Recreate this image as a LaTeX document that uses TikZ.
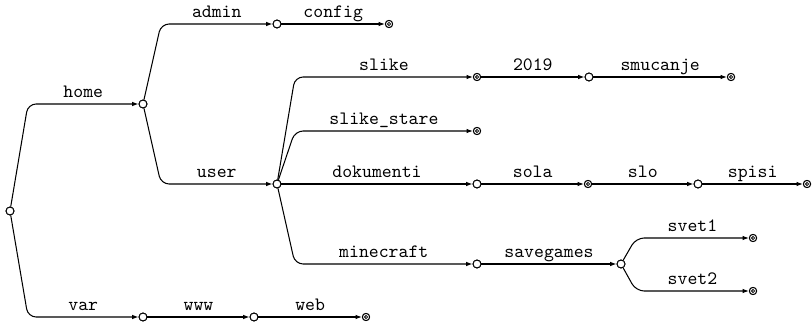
\documentclass[tikz,border=0pt]{standalone}
\usetikzlibrary{arrows.meta}
\begin{document}
\begin{tikzpicture}[x=0.53pt,y=-0.53pt,
  dir/.style={circle,draw,fill=white,line width=0.5pt,minimum size=4.2pt,inner sep=0pt},
  file/.style={circle,draw,fill=white,line width=0.5pt,minimum size=3.8pt,inner sep=0pt,
    path picture={\draw[line width=0.45pt] (path picture bounding box.center) circle (0.85pt);}},
  edge/.style={line width=0.55pt,rounded corners=4.3pt,-{Latex[length=3.4pt,width=2.4pt]}},
  lab/.style={midway,anchor=base,yshift=3.2pt,font=\ttfamily,inner sep=0pt}]
\useasboundingbox (0,0) rectangle (812,322);
% nodes
\node[dir] (root) at (10,211) {};
\node[dir] (home) at (143,104) {};
\node[dir] (admin) at (277,24) {};
\node[file] (config) at (389,24) {};
\node[dir] (user) at (277,184) {};
\node[dir] (var) at (143,317) {};
\node[dir] (www) at (254,317) {};
\node[file] (web) at (366,317) {};
\node[file] (slike) at (477,77) {};
\node[dir] (y2019) at (589,77) {};
\node[file] (smucanje) at (731,77) {};
\node[file] (slikestare) at (477,131) {};
\node[dir] (dokumenti) at (477,184) {};
\node[file] (sola) at (588,184) {};
\node[dir] (slo) at (698,184) {};
\node[file] (spisi) at (807,184) {};
\node[dir] (minecraft) at (477,264) {};
\node[dir] (savegames) at (621,264) {};
\node[file] (svet1) at (753,238) {};
\node[file] (svet2) at (753,291) {};
% bend references
\coordinate (rootR) at (28,211);
\coordinate (homeR) at (161,104);
\coordinate (userR) at (295,184);
\coordinate (saveR) at (636,264);
% edges
\draw[edge] (root) -- (rootR |- home) -- node[lab]{home} (home);
\draw[edge] (root) -- (rootR |- var) -- node[lab]{var} (var);
\draw[edge] (home) -- (homeR |- admin) -- node[lab]{admin} (admin);
\draw[edge] (home) -- (homeR |- user) -- node[lab]{user} (user);
\draw[edge] (admin) -- node[lab]{config} (config);
\draw[edge] (var) -- node[lab]{www} (www);
\draw[edge] (www) -- node[lab]{web} (web);
\draw[edge] (user) -- (userR |- slike) -- node[lab]{slike} (slike);
\draw[edge] (user) -- (userR |- slikestare) -- node[lab]{slike\_stare} (slikestare);
\draw[edge] (user) -- node[lab]{dokumenti} (dokumenti);
\draw[edge] (user) -- (userR |- minecraft) -- node[lab]{minecraft} (minecraft);
\draw[edge] (slike) -- node[lab]{2019} (y2019);
\draw[edge] (y2019) -- node[lab]{smucanje} (smucanje);
\draw[edge] (dokumenti) -- node[lab]{sola} (sola);
\draw[edge] (sola) -- node[lab]{slo} (slo);
\draw[edge] (slo) -- node[lab]{spisi} (spisi);
\draw[edge] (minecraft) -- node[lab]{savegames} (savegames);
\draw[edge] (savegames) -- (saveR |- svet1) -- node[lab]{svet1} (svet1);
\draw[edge] (savegames) -- (saveR |- svet2) -- node[lab]{svet2} (svet2);
% redraw nodes on top
\foreach \n in {root,home,admin,user,var,www,y2019,dokumenti,slo,minecraft,savegames}
  \node[dir] at (\n) {};
\foreach \n in {config,web,slike,smucanje,slikestare,sola,spisi,svet1,svet2}
  \node[file] at (\n) {};
\end{tikzpicture}
\end{document}
